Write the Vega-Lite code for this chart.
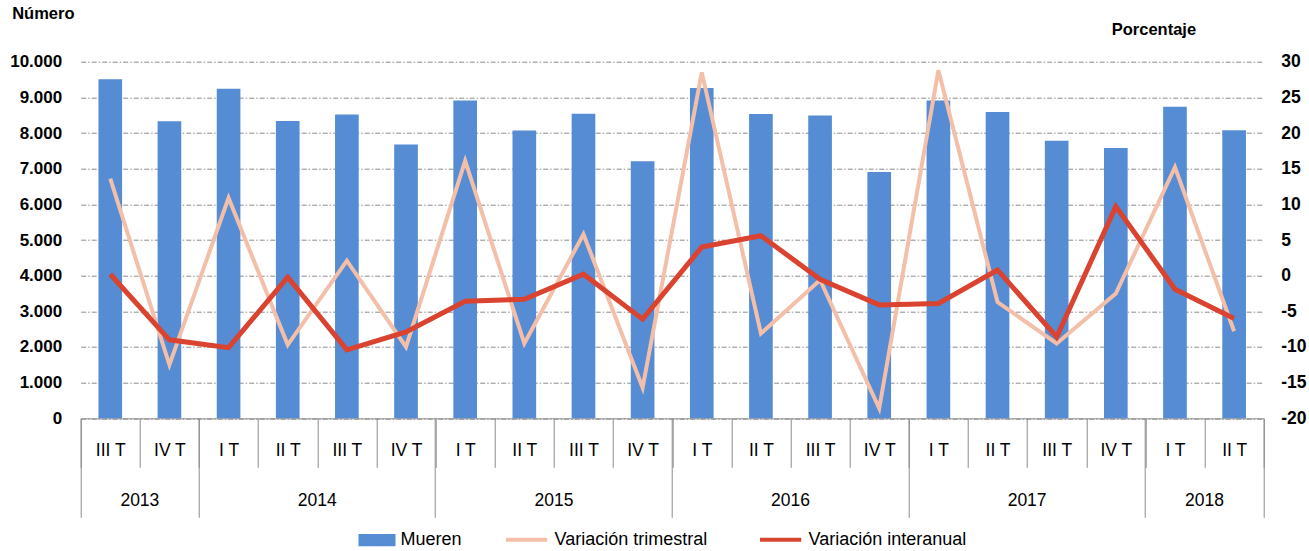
{
  "$schema": "https://vega.github.io/schema/vega-lite/v6.json",
  "width": 1183,
  "height": 356.6,
  "autosize": {"type": "none"},
  "padding": {"left": 80.7, "top": 61.7, "right": 45.3, "bottom": 132.7},
  "config": {
    "view": {"stroke": null},
    "font": "Liberation Sans",
    "axis": {"labelFont": "Liberation Sans", "labelColor": "#000000", "titleFont": "Liberation Sans", "titleColor": "#000000"},
    "legend": {"labelFont": "Liberation Sans", "labelColor": "#000000", "labelFontSize": 18, "padding": 0}
  },
  "data": {
    "values": [
      {"key": "2013|III T", "mueren": 9510, "trim": 13.6, "inter": 0.2},
      {"key": "2013|IV T", "mueren": 8330, "trim": -12.5, "inter": -9.0},
      {"key": "2014|I T", "mueren": 9240, "trim": 10.9, "inter": -10.1},
      {"key": "2014|II T", "mueren": 8340, "trim": -9.7, "inter": -0.2},
      {"key": "2014|III T", "mueren": 8520, "trim": 2.1, "inter": -10.4},
      {"key": "2014|IV T", "mueren": 7680, "trim": -10.0, "inter": -7.9},
      {"key": "2015|I T", "mueren": 8910, "trim": 16.1, "inter": -3.6},
      {"key": "2015|II T", "mueren": 8070, "trim": -9.5, "inter": -3.3},
      {"key": "2015|III T", "mueren": 8540, "trim": 5.8, "inter": 0.2},
      {"key": "2015|IV T", "mueren": 7210, "trim": -15.7, "inter": -6.1},
      {"key": "2016|I T", "mueren": 9260, "trim": 28.5, "inter": 4.0},
      {"key": "2016|II T", "mueren": 8530, "trim": -8.1, "inter": 5.6},
      {"key": "2016|III T", "mueren": 8490, "trim": -0.6, "inter": -0.5},
      {"key": "2016|IV T", "mueren": 6910, "trim": -18.6, "inter": -4.1},
      {"key": "2017|I T", "mueren": 8910, "trim": 28.8, "inter": -3.9},
      {"key": "2017|II T", "mueren": 8590, "trim": -3.7, "inter": 0.8},
      {"key": "2017|III T", "mueren": 7780, "trim": -9.5, "inter": -8.6},
      {"key": "2017|IV T", "mueren": 7580, "trim": -2.5, "inter": 9.7},
      {"key": "2018|I T", "mueren": 8740, "trim": 15.2, "inter": -1.9},
      {"key": "2018|II T", "mueren": 8080, "trim": -7.8, "inter": -6.0}
    ]
  },
  "layer": [
    {
      "mark": {"type": "bar", "width": {"band": 0.4}},
      "encoding": {
        "x": {
          "field": "key", "type": "ordinal", "sort": null,
          "scale": {"type": "band", "paddingInner": 0, "paddingOuter": 0},
          "axis": {
            "orient": "bottom", "title": null, "grid": false,
            "labelExpr": "split(datum.value, '|')[1]",
            "labelAngle": 0, "labelFontSize": 17.5, "labelBaseline": "middle", "labelPadding": -16.6,
            "tickBand": "extent", "tickSize": 49, "tickColor": "#8c8c8c", "domainColor": "#8c8c8c", "labelOverlap": false
          }
        },
        "y": {
          "field": "mueren", "type": "quantitative",
          "scale": {"domain": [0, 10000], "nice": false},
          "axis": {
            "orient": "left", "title": "Número",
            "values": [0, 1000, 2000, 3000, 4000, 5000, 6000, 7000, 8000, 9000, 10000],
            "labelExpr": "replace(format(datum.value, ','), ',', '.')",
            "grid": true, "gridDash": [5, 2, 1.5, 2], "gridColor": "#8c8c8c", "gridWidth": 1,
            "ticks": false, "domain": false, "labelPadding": 19,
            "labelFontSize": 17, "labelFontWeight": "bold",
            "titleAngle": 0, "titleX": -69, "titleY": -48, "titleAlign": "left", "titleBaseline": "middle",
            "titleFontSize": 16.5, "titleFontWeight": "bold"
          }
        },
        "fill": {
          "datum": "Mueren",
          "scale": {"range": ["#558CD3"]},
          "legend": {
            "title": null, "orient": "none", "legendX": 277.8, "legendY": 460,
            "symbolType": "M-1,-0.33H1V0.33H-1Z", "symbolSize": 1369, "symbolStrokeWidth": 0,
            "labelOffset": 5
          }
        }
      }
    },
    {
      "mark": {"type": "line", "strokeWidth": 4},
      "encoding": {
        "x": {
          "field": "key", "type": "ordinal", "sort": null,
          "axis": {
            "orient": "bottom", "title": null, "grid": false, "ticks": false, "domain": false,
            "values": ["2013|III T", "2014|II T", "2015|II T", "2016|II T", "2017|II T", "2018|I T"],
            "labelExpr": "split(datum.value, '|')[0]",
            "labelAngle": 0, "labelFontSize": 17.5, "labelBaseline": "middle", "labelPadding": 82.4,
            "labelOffset": 29.6, "labelOverlap": false
          }
        },
        "y": {
          "field": "trim", "type": "quantitative",
          "scale": {"domain": [-20, 30], "nice": false},
          "axis": {
            "orient": "right", "title": "Porcentaje",
            "values": [-20, -15, -10, -5, 0, 5, 10, 15, 20, 25, 30],
            "labelExpr": "'' + datum.value",
            "grid": false, "ticks": false, "domain": false, "labelPadding": 17,
            "labelFontSize": 17.5, "labelFontWeight": "bold",
            "titleAngle": 0, "titleX": -152.5, "titleY": -32, "titleAlign": "left", "titleBaseline": "middle",
            "titleFontSize": 16.5, "titleFontWeight": "bold"
          }
        },
        "stroke": {
          "datum": "Variación trimestral",
          "scale": {"domain": ["Variación trimestral", "Variación interanual"], "range": ["#F3BFA8", "#D9432F"]},
          "legend": {
            "title": null, "orient": "none", "direction": "horizontal", "columns": 2,
            "legendX": 422.9, "legendY": 455,
            "symbolType": "stroke", "symbolSize": 1700, "symbolStrokeWidth": 4,
            "labelOffset": 5, "columnPadding": 44
          }
        }
      }
    },
    {
      "mark": {"type": "line", "strokeWidth": 5},
      "encoding": {
        "x": {
          "field": "key", "type": "ordinal", "sort": null,
          "axis": {
            "orient": "bottom", "title": null, "grid": false, "labels": false, "domain": false,
            "values": ["2013|III T", "2014|I T", "2015|I T", "2016|I T", "2017|I T", "2018|I T"],
            "bandPosition": 0, "tickSize": 99, "tickColor": "#8c8c8c"
          }
        },
        "y": {
          "field": "inter", "type": "quantitative",
          "scale": {"domain": [-20, 30], "nice": false},
          "axis": null
        },
        "stroke": {"datum": "Variación interanual"}
      }
    },
    {
      "mark": {"type": "point", "opacity": 0},
      "encoding": {
        "x": {
          "field": "key", "type": "ordinal", "sort": null,
          "axis": {
            "orient": "bottom", "title": null, "grid": false, "labels": false, "domain": false,
            "values": ["2018|II T"],
            "bandPosition": 1, "tickSize": 99, "tickColor": "#8c8c8c"
          }
        },
        "y": {
          "field": "mueren", "type": "quantitative",
          "scale": {"domain": [0, 10000], "nice": false},
          "axis": null
        }
      }
    }
  ],
  "resolve": {"scale": {"y": "independent"}, "axis": {"x": "independent"}}
}
